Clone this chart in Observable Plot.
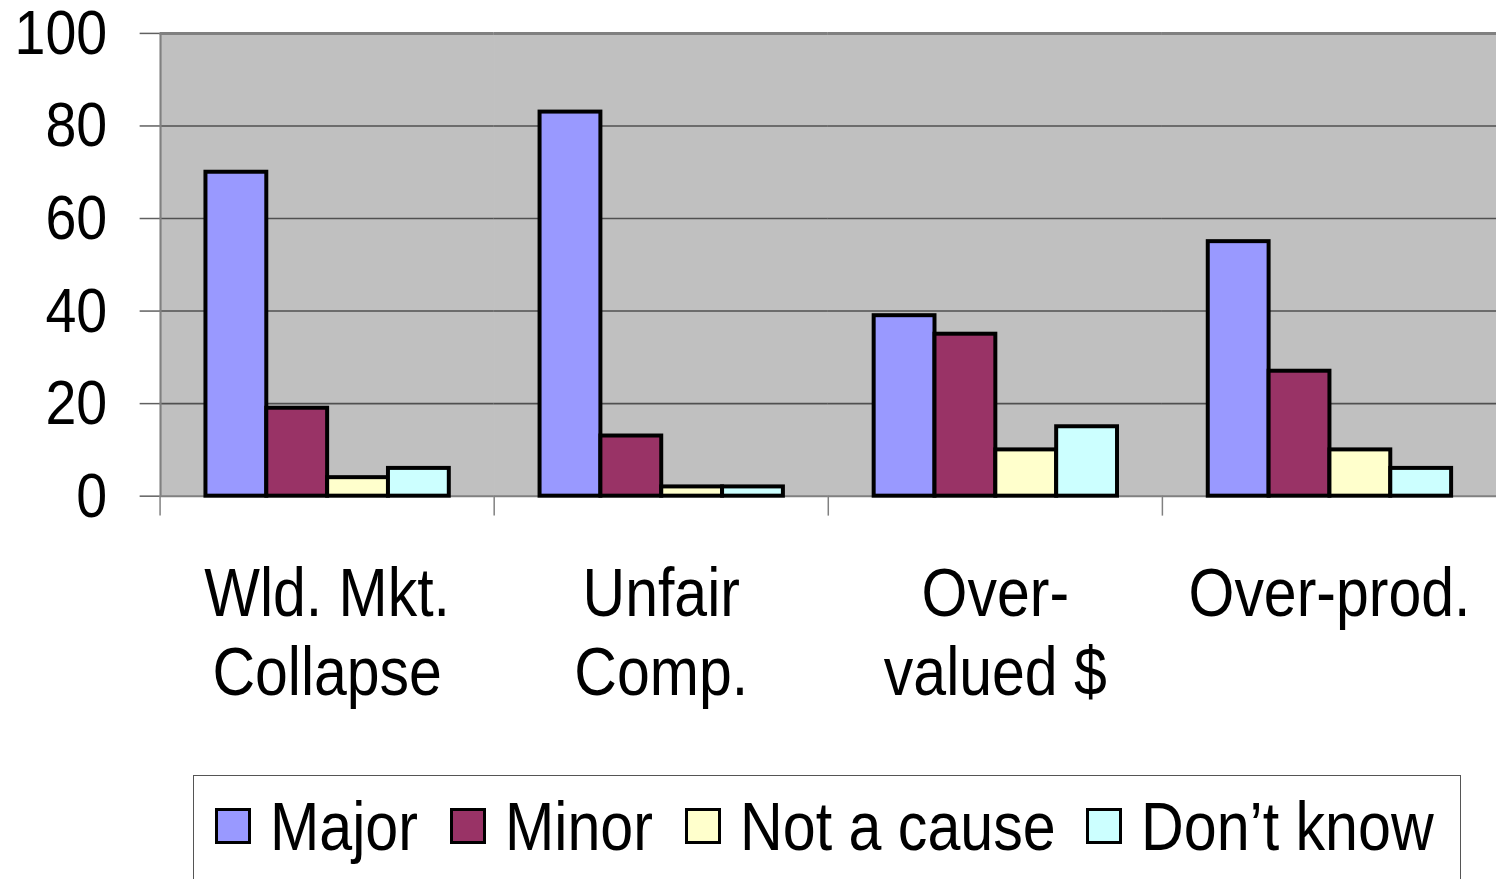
<!DOCTYPE html>
<html><head><meta charset="utf-8">
<script src="https://cdn.jsdelivr.net/npm/d3@7"></script>
<script src="https://cdn.jsdelivr.net/npm/@observablehq/plot@0.6"></script>
<style>
html,body{margin:0;padding:0;background:#fff;overflow:hidden;width:1496px;height:879px;}
#chart{position:absolute;left:0;top:0;}
#legend{position:absolute;left:193px;top:775px;width:1268px;height:130px;border:1.5px solid #555;box-sizing:border-box;background:#fff;
  font-family:"Liberation Sans",Arial,sans-serif;font-size:68px;color:#000;display:flex;align-items:center;padding-left:21px;padding-bottom:28px;}
.item{display:flex;align-items:center;}
.sw{display:inline-block;width:30px;height:30px;border:3.5px solid #000;margin-right:19px;}
.lab{display:inline-block;white-space:nowrap;line-height:1;}
.lab span{display:inline-block;transform-origin:0 50%;}
</style></head><body>
<div id="chart"></div>
<div id="legend"></div>
<script>
const categories = ["Wld. Mkt.\nCollapse", "Unfair\nComp.", "Over-\nvalued $", "Over-prod."];
const series = ["Major", "Minor", "Not a cause", "Don\u2019t know"];
const colors = ["#9999FF", "#993366", "#FFFFCC", "#CCFFFF"];
const major    = [70, 83, 39, 55];
const minor    = [19, 13, 35, 27];
const notCause = [4, 2, 10, 10];
const dontKnow = [6, 2, 15, 6];
const yTicks = [0, 20, 40, 60, 80, 100];

const valuesBySeries = [major, minor, notCause, dontKnow];
const data = [];
categories.forEach((c, ci) => series.forEach((s, si) => data.push({category: c, series: s, value: valuesBySeries[si][ci]})));

const W = 1500, H = 760, ML = 160, MR = 0;
const padOuter = 0.745;
const facetW = (W - ML - MR) / categories.length;
const bw = facetW / (series.length + 2 * padOuter);
const condense = 0.87;

const plot = Plot.plot({
  width: W, height: H,
  marginLeft: ML, marginRight: MR, marginTop: 33, marginBottom: 263,
  style: {fontFamily: "'Liberation Sans', Arial, sans-serif", fontSize: "64px", color: "#000", background: "transparent", overflow: "visible"},
  fx: {domain: categories, padding: 0, label: null, axis: null},
  x: {domain: series, paddingInner: 0, paddingOuter: padOuter, axis: null},
  y: {domain: [0, 100], label: null},
  color: {domain: series, range: colors},
  marks: [
    Plot.frame({fill: "#C0C0C0", stroke: "#C0C0C0", strokeWidth: 1.2}),
    Plot.gridY(yTicks.slice(1, -1), {stroke: "#505050", strokeOpacity: 1, strokeWidth: 1.6}),
    Plot.ruleY([0], {stroke: "#808080", strokeWidth: 2}),
    Plot.barY(data, {fx: "category", x: "series", y: "value", fill: "series", stroke: "#000", strokeWidth: 4}),
    Plot.ruleY([100], {stroke: "#808080", strokeWidth: 3}),
    Plot.ruleX([categories[0]], {fx: d => d, x: () => series[0], y1: 0, y2: 100, stroke: "#808080", strokeWidth: 2, dx: -(padOuter * bw + bw / 2)}),
    Plot.axisY(yTicks, {tickSize: 20, tickPadding: 33, stroke: "#606060", strokeWidth: 1.5, fontSize: 64, tickFormat: d => String(d)}),
    Plot.axisFx({anchor: "bottom", tickSize: 0, tickPadding: 63, fontSize: 68, lineHeight: 80 / 68, label: null}),
    Plot.axisFx({anchor: "bottom", text: null, tickSize: 20, dx: -facetW / 2, stroke: "#808080", strokeWidth: 1.5, label: null})
  ]
});
document.getElementById("chart").appendChild(plot);

// condensed lettering, as in the original
plot.querySelectorAll("text").forEach(t => {
  const tspans = t.querySelectorAll("tspan");
  const targets = tspans.length ? [...tspans] : [t];
  targets.forEach(el => {
    const L = el.getComputedTextLength();
    if (L > 0) {
      el.setAttribute("textLength", (L * condense).toFixed(2));
      el.setAttribute("lengthAdjust", "spacingAndGlyphs");
    }
  });
});

// legend
const legend = document.getElementById("legend");
const gaps = [32, 32, 30, 0];
series.forEach((s, i) => {
  const item = document.createElement("div");
  item.className = "item";
  item.style.marginRight = gaps[i] + "px";
  const sw = document.createElement("span");
  sw.className = "sw";
  sw.style.background = colors[i];
  const lab = document.createElement("span");
  lab.className = "lab";
  const inner = document.createElement("span");
  inner.textContent = s;
  lab.appendChild(inner);
  item.appendChild(sw);
  item.appendChild(lab);
  legend.appendChild(item);
  const w = inner.getBoundingClientRect().width;
  inner.style.transform = `scaleX(${condense})`;
  lab.style.width = (w * condense) + "px";
});
</script>
</body></html>
